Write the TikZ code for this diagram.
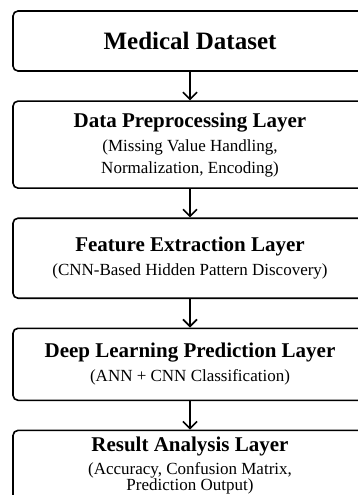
\documentclass[tikz,border=0pt]{standalone}
\usepackage{fontspec}
\setmainfont{Liberation Serif}
\usetikzlibrary{arrows.meta,positioning}
\tikzset{
    layerbox/.style={rectangle,draw,rounded corners=5pt,line width=1.6pt,align=center,minimum width=354pt,inner sep=0pt,font=\fontsize{17}{22}\selectfont},
    layerline/.style={-{Straight Barb[length=7pt,width=14pt]},line width=1.6pt}
}
\newcommand{\layertitle}[1]{{\fontsize{21}{22}\selectfont\bfseries #1}}

\begin{document}
\begin{tikzpicture}[x=1pt,y=1pt,node distance=28.5pt]
            \useasboundingbox (0,0) rectangle (357,-495);
            \node[layerbox,minimum height=60pt] (dataset) at (190,-41) {{\fontsize{25}{26}\selectfont\bfseries Medical Dataset}};
            \node[layerbox,minimum height=87pt,below=of dataset] (prep) {\layertitle{Data Preprocessing Layer}\\[2pt] (Missing Value Handling,\\ Normalization, Encoding)};
            \node[layerbox,minimum height=80pt,below=of prep] (feat) {\layertitle{Feature Extraction Layer}\\[2pt] (CNN-Based Hidden Pattern Discovery)};
            \node[layerbox,minimum height=72pt,below=of feat] (pred) {\layertitle{Deep Learning Prediction Layer}\\[2pt] (ANN + CNN Classification)};
            \node[layerbox,minimum height=70pt,below=of pred] (result) {\layertitle{Result Analysis Layer}\\[1pt] (Accuracy, Confusion Matrix,\\[-6pt] Prediction Output)};
            \draw[layerline] (dataset) -- (prep);
            \draw[layerline] (prep) -- (feat);
            \draw[layerline] (feat) -- (pred);
            \draw[layerline] (pred) -- (result);
        \end{tikzpicture}
\end{document}
